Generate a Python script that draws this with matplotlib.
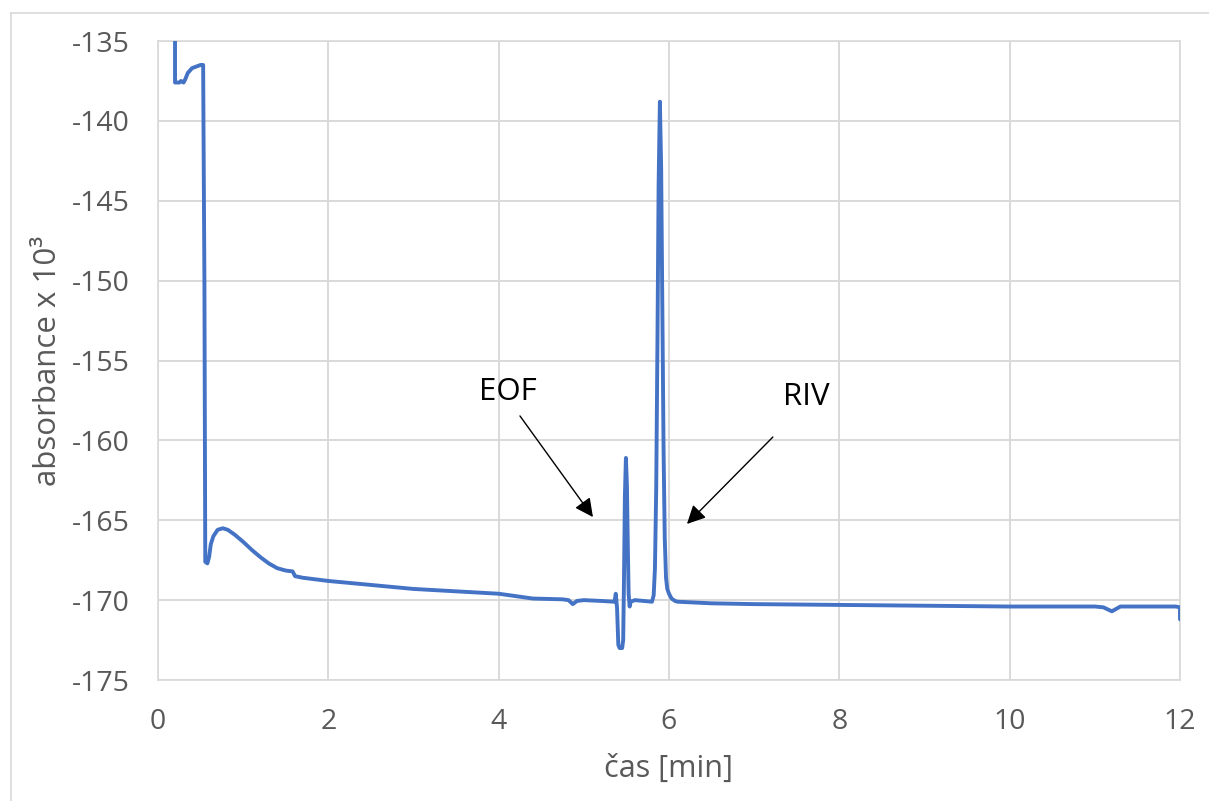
import matplotlib
matplotlib.use("Agg")
import matplotlib.pyplot as plt
from matplotlib.lines import Line2D

# ---- data ----
time_min = [0.20, 0.20, 0.25, 0.27, 0.30, 0.32, 0.35, 0.40, 0.45, 0.50, 0.53,
            0.545, 0.555, 0.58, 0.60, 0.62, 0.65, 0.70, 0.76, 0.82, 0.90, 1.00,
            1.10, 1.20, 1.30, 1.40, 1.50, 1.58, 1.61, 1.70, 1.85, 2.00, 2.50,
            3.00, 3.50, 4.00, 4.40, 4.75, 4.82, 4.87, 4.92, 5.00, 5.20, 5.36,
            5.375, 5.39, 5.405, 5.42, 5.45, 5.462, 5.472, 5.482, 5.494, 5.506,
            5.516, 5.526, 5.538, 5.55, 5.60, 5.70, 5.80, 5.82, 5.835, 5.85,
            5.865, 5.878, 5.893, 5.908, 5.922, 5.936, 5.95, 5.965, 5.98, 6.00,
            6.03, 6.07, 6.10, 6.30, 6.50, 7.00, 8.00, 9.00, 10.00, 11.00, 11.10,
            11.20, 11.25, 11.30, 11.60, 11.95, 12.00, 12.00]
absorbance = [-130.0, -137.6, -137.6, -137.5, -137.6, -137.4, -137.0, -136.7,
              -136.6, -136.5, -136.5, -150.0, -167.6, -167.7, -167.3, -166.5,
              -166.0, -165.6, -165.5, -165.6, -165.9, -166.35, -166.85, -167.3,
              -167.7, -168.0, -168.15, -168.2, -168.5, -168.6, -168.7, -168.8,
              -169.05, -169.3, -169.45, -169.6, -169.9, -169.95, -170.0, -170.25,
              -170.05, -170.0, -170.05, -170.1, -169.6, -170.5, -172.8, -173.0,
              -173.0, -172.5, -168.5, -163.5, -161.1, -162.8, -166.5, -169.6,
              -170.4, -170.1, -170.0, -170.05, -170.1, -169.7, -168.0, -163.0,
              -153.4, -144.0, -138.8, -143.0, -151.8, -160.5, -166.1, -168.6,
              -169.3, -169.6, -169.9, -170.05, -170.1, -170.15, -170.2, -170.25,
              -170.3, -170.35, -170.4, -170.4, -170.45, -170.7, -170.55, -170.4,
              -170.4, -170.4, -170.45, -171.2]

x_ticks = [0, 2, 4, 6, 8, 10, 12]
y_ticks = [-175, -170, -165, -160, -155, -150, -145, -140, -135]

labels = ["EOF", "RIV"]
label_pos = [(4.11, -156.97), (7.61, -157.28)]
arrow_tail = [(4.25, -158.47), (7.22, -159.79)]
arrow_head = [(5.107, -164.80), (6.211, -165.23)]

# ---- styling ----
plt.rcParams['font.family'] = ['Open Sans', 'DejaVu Sans']
plt.rcParams['axes.unicode_minus'] = False
grey = '#d9d9d9'
txt = '#595959'

fig = plt.figure(figsize=(12.09, 8.01), dpi=100)
ax = fig.add_axes([158 / 1209, 1 - 680 / 801, (1180 - 158) / 1209, (680 - 41) / 801])

ax.plot(time_min, absorbance, color='#4472C4', lw=2.8, solid_joinstyle='round',
        solid_capstyle='round', zorder=3)

ax.set_xlim(0, 12)
ax.set_ylim(-175, -135)
ax.set_xticks(x_ticks)
ax.set_yticks(y_ticks)
ax.set_xticklabels([str(v) for v in x_ticks])
ax.set_yticklabels([str(v) for v in y_ticks])
ax.grid(True, color=grey, lw=1.4, zorder=0)
ax.set_axisbelow(True)
for s in ax.spines.values():
    s.set_color(grey)
    s.set_linewidth(1.2)
ax.tick_params(axis='both', length=0, labelsize=20.5, labelcolor=txt)
ax.tick_params(axis='y', pad=20)
ax.tick_params(axis='x', pad=20)

ax.set_xlabel('čas [min]', fontsize=22, color=txt, labelpad=13)
ax.set_ylabel('absorbance x 10³', fontsize=22.5, color=txt, labelpad=7)

for lab, pos, tail, head in zip(labels, label_pos, arrow_tail, arrow_head):
    ax.text(pos[0], pos[1], lab, fontsize=22.5, color='black', ha='center', va='center')
    ax.annotate('', xy=head, xytext=tail,
                arrowprops=dict(arrowstyle='-|>', color='black', lw=1.0,
                                mutation_scale=28, shrinkA=0, shrinkB=0))

# outer chart border (left and top visible)
fig.add_artist(Line2D([10.5 / 1209, 10.5 / 1209], [0, 1 - 12.5 / 801],
                      transform=fig.transFigure, color=grey, lw=1.2))
fig.add_artist(Line2D([10.5 / 1209, 1], [1 - 12.5 / 801, 1 - 12.5 / 801],
                      transform=fig.transFigure, color=grey, lw=1.2))

fig.savefig('out.png', dpi=100, facecolor='white')
